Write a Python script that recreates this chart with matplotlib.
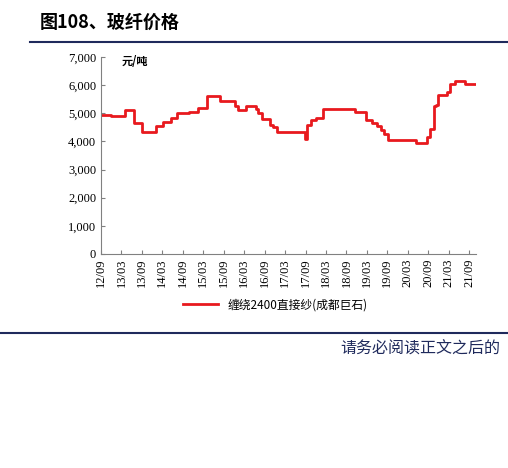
import matplotlib
matplotlib.use("Agg")
import matplotlib.pyplot as plt
from matplotlib.ticker import FuncFormatter

plt.rcParams['font.family'] = ['Noto Sans CJK SC', 'DejaVu Sans']

# step starts (months since 2012-09) and values
step_x = [0, 3, 7, 9.8, 12, 16, 18.3, 20.4, 22.3, 25.8, 28.4, 31, 35, 39.2, 40.2, 42.5, 45.4, 46,
          47.3, 49.5, 50.5, 51.5, 59.8, 60.3, 61.6, 63.2, 65.2, 74.5, 77.7, 79.4, 80.9, 82.2,
          83.1, 84.3, 92.4, 95.6, 96.6, 97.6, 98.3, 99, 101.5, 102.5, 103.7, 106.9, 110]
step_y = [4950, 4900, 5100, 4650, 4350, 4550, 4700, 4850, 5000, 5050, 5200, 5600, 5450, 5250, 5100,
          5250, 5150, 5000, 4800, 4600, 4500, 4350, 4100, 4600, 4750, 4850, 5150, 5050, 4750,
          4650, 4550, 4400, 4250, 4050, 3950, 4150, 4450, 5250, 5300, 5650, 5750, 6050, 6150,
          6050, 6050]
tick_labels = ['12/09', '13/03', '13/09', '14/03', '14/09', '15/03', '15/09', '16/03', '16/09',
               '17/03', '17/09', '18/03', '18/09', '19/03', '19/09', '20/03', '20/09', '21/03', '21/09']
series_name = '缠绕2400直接纱(成都巨石)'

fig = plt.figure(figsize=(5.08, 4.68), dpi=100)
navy = '#1f2a5c'
fig.text(40/508, 1-22/468, '图108、玻纤价格', fontsize=13, fontweight='bold', va='center', ha='left', color='black')
fig.add_artist(plt.Line2D([30/508, 1], [1-42/468]*2, color=navy, lw=1.5))
fig.add_artist(plt.Line2D([0, 1], [1-333/468]*2, color=navy, lw=1.5))
fig.text(340/508, 1-349/468, '请务必阅读正文之后的', fontsize=11.5, color=navy, va='center', ha='left')

ax = fig.add_axes([101/508, 1-254/468, 375/508, 197/468])
ax.step(step_x, step_y, where='post', color='#e8191e', lw=2, label=series_name)
ax.set_xlim(0, 110)
ax.set_ylim(0, 7000)
ax.set_yticks(range(0, 7001, 1000))
ax.yaxis.set_major_formatter(FuncFormatter(lambda v, p: f'{int(v):,}'))
ax.set_xticks([i*6 for i in range(len(tick_labels))])
ax.set_xticklabels(tick_labels, rotation=90, family='Liberation Serif', fontsize=9)
for t in ax.get_yticklabels():
    t.set_family('Liberation Serif'); t.set_fontsize(9)
for s in ['top', 'right']:
    ax.spines[s].set_visible(False)
for s in ['left', 'bottom']:
    ax.spines[s].set_color('#808080')
ax.tick_params(direction='in', length=3, colors='#808080', labelcolor='black')
ax.text(6, 6850, '元/吨', fontsize=8, va='center', fontweight='bold')
fig.legend(loc='center', bbox_to_anchor=(275/508, 1-305/468), frameon=False, fontsize=8.5,
           handlelength=3)
fig.savefig('out.png', dpi=100)
